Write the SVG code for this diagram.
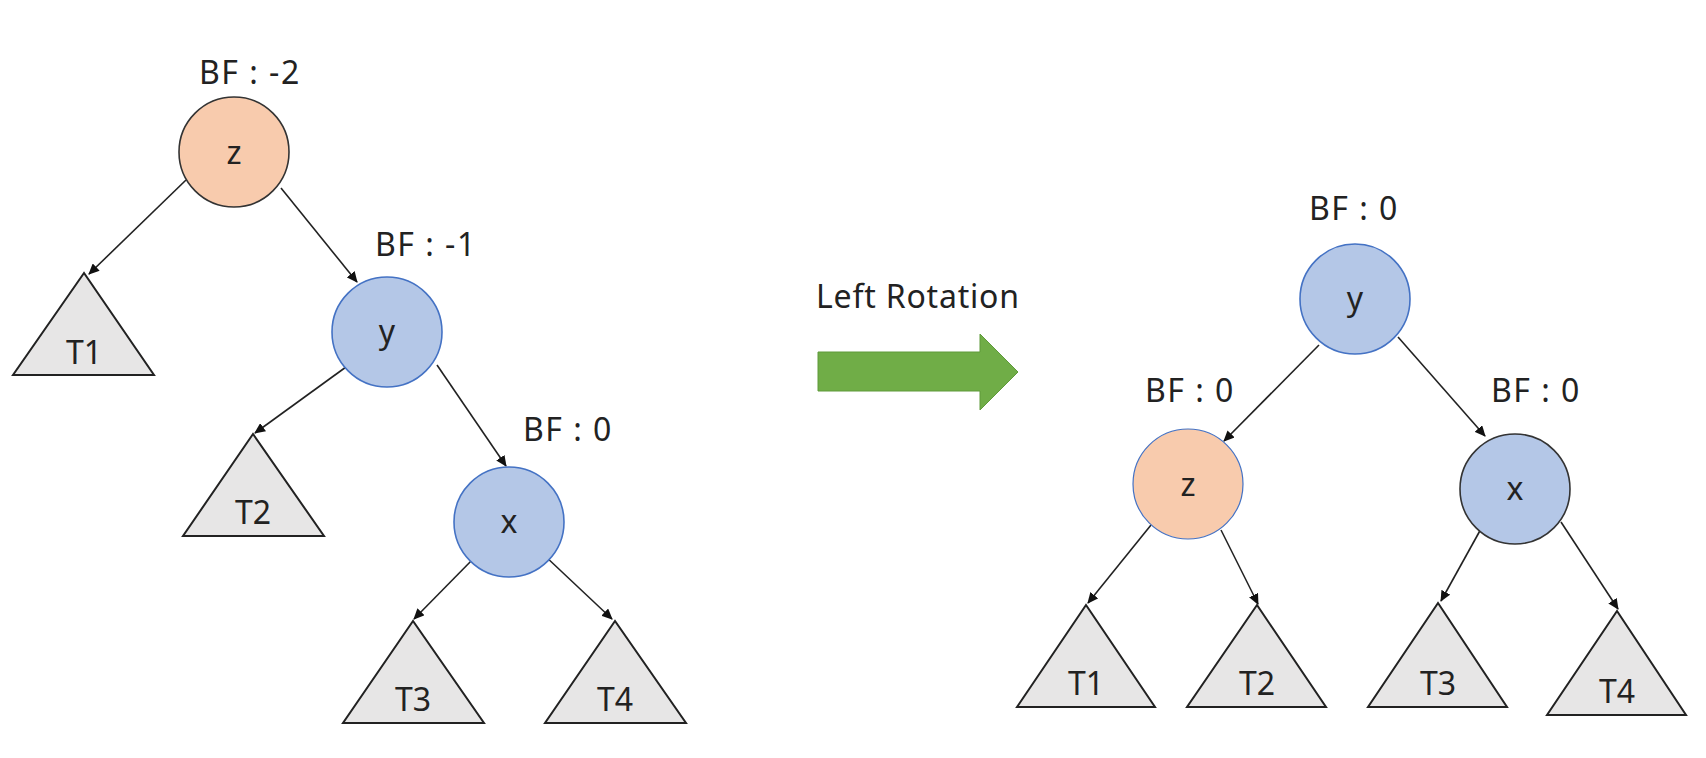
<svg xmlns="http://www.w3.org/2000/svg" width="1706" height="758" viewBox="0 0 1706 758">
<style>
text{font-family:"Noto Sans","Liberation Sans",sans-serif;font-size:32px;fill:#222}
.bf{letter-spacing:1.5px}
.lbl{text-anchor:middle}
.tri{fill:#E7E6E6;stroke:#222;stroke-width:2}
.or{fill:#F8CBAD}
.bl{fill:#B4C7E7}
.edge{stroke:#222;stroke-width:1.6;fill:none;marker-end:url(#ah)}
</style>
<defs>
<marker id="ah" markerUnits="userSpaceOnUse" markerWidth="11" markerHeight="10" refX="10" refY="5" orient="auto">
<path d="M0,0 L11,5 L0,10 z" fill="#111"/>
</marker>
</defs>
<rect width="1706" height="758" fill="#fff"/>
<g id="connectors">
<line class="edge" x1="186" y1="180" x2="89" y2="274"/>
<line class="edge" x1="281" y1="188" x2="357" y2="282"/>
<line class="edge" x1="346" y1="367" x2="255" y2="433"/>
<line class="edge" x1="437" y1="365" x2="506" y2="466"/>
<line class="edge" x1="475" y1="557" x2="414" y2="619"/>
<line class="edge" x1="544" y1="555" x2="612" y2="619"/>
<line class="edge" x1="1319" y1="345" x2="1224" y2="441"/>
<line class="edge" x1="1398" y1="337" x2="1485" y2="436"/>
<line class="edge" x1="1151" y1="525" x2="1088" y2="603"/>
<line class="edge" x1="1221" y1="530" x2="1258" y2="604"/>
<line class="edge" x1="1482" y1="527" x2="1441" y2="601"/>
<line class="edge" x1="1561" y1="522" x2="1618" y2="609"/>
</g>
<g id="left-z">
<text class="bf" x="199" y="84">BF : -2</text>
<circle class="or" cx="234" cy="152" r="55" stroke="#333" stroke-width="1.6"/>
<text class="lbl" x="234" y="164">z</text>
</g>
<g id="left-T1">
<polygon class="tri" points="84,273 13,375 154,375"/>
<text class="lbl" x="84" y="364">T1</text>
</g>
<g id="left-y">
<text class="bf" x="375" y="256">BF : -1</text>
<circle class="bl" cx="387" cy="332" r="55" stroke="#4472C4" stroke-width="1.6"/>
<text class="lbl" x="387" y="343">y</text>
</g>
<g id="left-T2">
<polygon class="tri" points="253,434 183,536 324,536"/>
<text class="lbl" x="253" y="524">T2</text>
</g>
<g id="left-x">
<text class="bf" x="523" y="441">BF : 0</text>
<circle class="bl" cx="509" cy="522" r="55" stroke="#4472C4" stroke-width="1.6"/>
<text class="lbl" x="509" y="533">x</text>
</g>
<g id="left-T3">
<polygon class="tri" points="413,621 343,723 484,723"/>
<text class="lbl" x="413" y="711">T3</text>
</g>
<g id="left-T4">
<polygon class="tri" points="615,621 545,723 686,723"/>
<text class="lbl" x="615" y="711">T4</text>
</g>
<g id="rotation">
<text x="816" y="308" style="letter-spacing:0.8px">Left Rotation</text>
<polygon points="818,352 980,352 980,334 1018,372 980,410 980,391 818,391" fill="#70AD47" stroke="#5F9A3B" stroke-width="1"/>
</g>
<g id="right-y">
<text class="bf" x="1309" y="220">BF : 0</text>
<circle class="bl" cx="1355" cy="299" r="55" stroke="#4472C4" stroke-width="1.6"/>
<text class="lbl" x="1355" y="310">y</text>
</g>
<g id="right-z">
<text class="bf" x="1145" y="402">BF : 0</text>
<circle class="or" cx="1188" cy="484" r="55" stroke="#4472C4" stroke-width="1.2"/>
<text class="lbl" x="1188" y="496">z</text>
</g>
<g id="right-x">
<text class="bf" x="1491" y="402">BF : 0</text>
<circle class="bl" cx="1515" cy="489" r="55" stroke="#333" stroke-width="1.6"/>
<text class="lbl" x="1515" y="500">x</text>
</g>
<g id="right-T1">
<polygon class="tri" points="1086,605 1017,707 1155,707"/>
<text class="lbl" x="1086" y="695">T1</text>
</g>
<g id="right-T2">
<polygon class="tri" points="1257,605 1187,707 1326,707"/>
<text class="lbl" x="1257" y="695">T2</text>
</g>
<g id="right-T3">
<polygon class="tri" points="1438,603 1368,707 1507,707"/>
<text class="lbl" x="1438" y="695">T3</text>
</g>
<g id="right-T4">
<polygon class="tri" points="1617,611 1547,715 1686,715"/>
<text class="lbl" x="1617" y="703">T4</text>
</g>
</svg>
